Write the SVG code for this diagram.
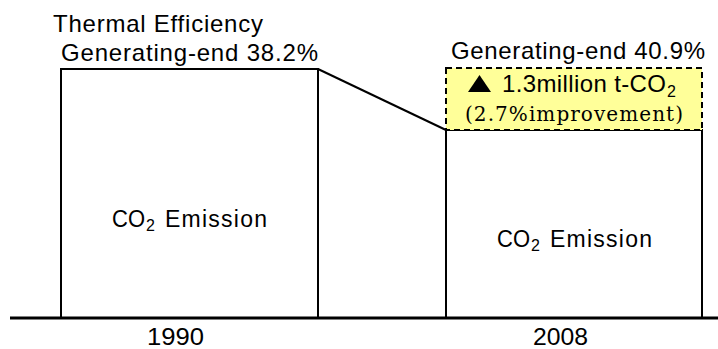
<svg xmlns="http://www.w3.org/2000/svg" width="718" height="349" viewBox="0 0 718 349">
  <style>
    .bar { fill: #ffffff; stroke: #000000; stroke-width: 2; }
    .gain { fill: #ffff99; stroke: #000000; stroke-width: 2; stroke-dasharray: 6 4; }
    .lbl { font-family: "Liberation Sans", Arial, sans-serif; font-size: 24px; fill: #000000; }
    .em { font-family: "Liberation Sans", Arial, sans-serif; font-size: 23px; fill: #000000; }
    .sub { font-family: "Liberation Sans", Arial, sans-serif; font-size: 16px; fill: #000000; }
    .ser { font-family: "DejaVu Serif", "Liberation Serif", serif; font-size: 20px; fill: #000000; }
    .yr { font-family: "Liberation Sans Narrow", "Liberation Sans", Arial, sans-serif; font-size: 24px; fill: #000000; }
    .conn { stroke: #000000; stroke-width: 2; fill: none; }
  </style>

  <rect width="718" height="349" fill="#ffffff"/>

  <!-- 1990 bar -->
  <g id="bar1990">
    <rect class="bar" x="61" y="69" width="257" height="249"/>
    <text class="em" x="112" y="227" textLength="33" lengthAdjust="spacingAndGlyphs">CO</text>
    <text class="sub" x="146" y="231">2</text>
    <text class="em" x="165" y="227" textLength="102">Emission</text>
  </g>

  <!-- 2008 bar -->
  <g id="bar2008">
    <rect class="bar" x="446" y="130" width="256" height="188"/>
    <text class="em" x="497" y="247" textLength="33" lengthAdjust="spacingAndGlyphs">CO</text>
    <text class="sub" x="531" y="251">2</text>
    <text class="em" x="550" y="247" textLength="102">Emission</text>
  </g>

  <!-- reduction box -->
  <g id="reduction">
    <rect class="gain" x="446" y="68" width="256" height="62"/>
    <polygon points="468,92 479.5,75 491,92" fill="#000000"/>
    <text class="lbl" x="502" y="92" textLength="164">1.3million t-CO</text>
    <text class="sub" x="667" y="97">2</text>
    <text class="ser" x="465" y="121" textLength="218">(2.7%improvement)</text>
  </g>

  <!-- efficiency labels -->
  <g id="eff1990">
    <text class="lbl" x="53" y="32" textLength="210">Thermal Efficiency</text>
    <text class="lbl" x="61" y="61" textLength="257">Generating-end 38.2%</text>
  </g>
  <g id="eff2008">
    <text class="lbl" x="451" y="59" textLength="254">Generating-end 40.9%</text>
  </g>

  <!-- axis and year labels -->
  <g id="axis">
    <line x1="10" y1="318" x2="718" y2="318" stroke="#000000" stroke-width="3"/>
    <text class="yr" x="147" y="345" textLength="57" lengthAdjust="spacingAndGlyphs">1990</text>
    <text class="yr" x="533" y="345" textLength="55" lengthAdjust="spacingAndGlyphs">2008</text>
  </g>

  <!-- connector between bar tops -->
  <g id="connectors">
    <line class="conn" x1="318" y1="69" x2="446" y2="130"/>
  </g>
</svg>
